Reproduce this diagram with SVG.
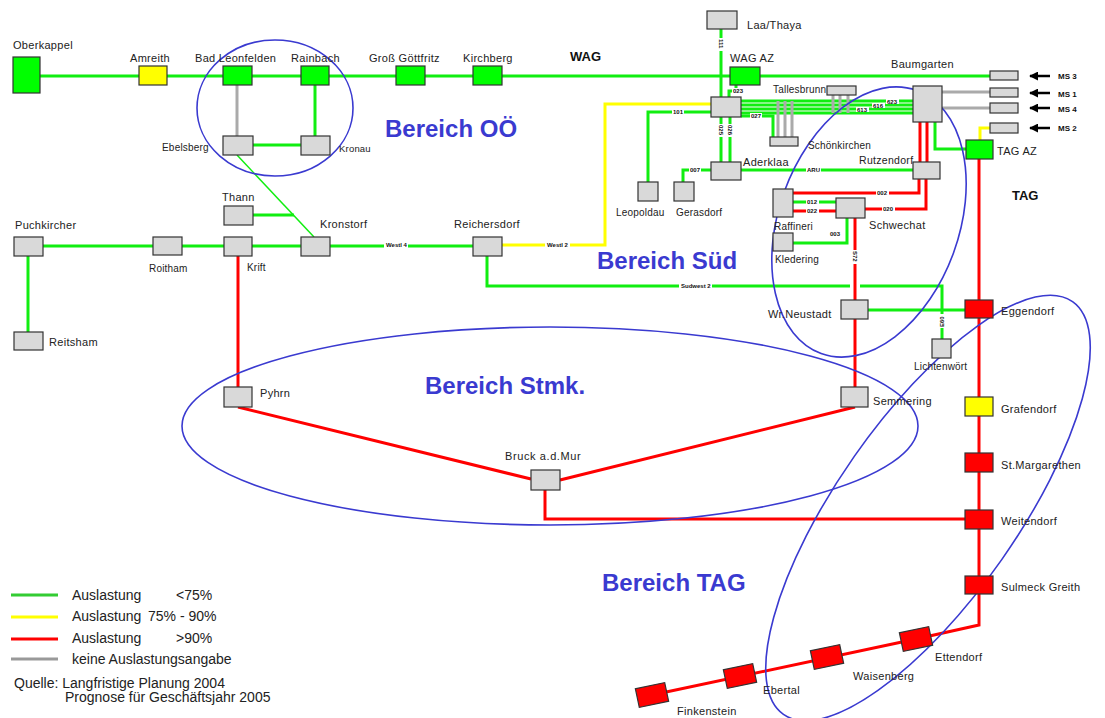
<svg xmlns="http://www.w3.org/2000/svg" width="1105" height="718" viewBox="0 0 1105 718">
<defs>
<style>
.st{fill:#d9d9d9;stroke:#333;stroke-width:1.2}
.g{fill:#00ff00}
.y{fill:#ffff00}
.r{fill:#ff0000}
.t{font-family:"Liberation Sans",Arial,sans-serif;font-size:11px;fill:#222;letter-spacing:0.3px}
.ts{font-size:10px;letter-spacing:0.2px}
.lg{fill:none;stroke:#11ee11;stroke-width:3}
.lgt{fill:none;stroke:#11ee11;stroke-width:1.5}
.lr{fill:none;stroke:#ff0000;stroke-width:3}
.ly{fill:none;stroke:#ffff00;stroke-width:3}
.lgr{fill:none;stroke:#aaaaaa;stroke-width:3}
.cl{font-family:"Liberation Sans",Arial,sans-serif;font-size:6px;font-weight:bold;fill:#111}
.cb{fill:#fff}
.bb{font-family:"Liberation Sans",Arial,sans-serif;font-weight:bold;font-size:24px;fill:#3a3ad0}
.reg{fill:none;stroke:#3a3ad0;stroke-width:1.6}
.hd{font-family:"Liberation Sans",Arial,sans-serif;font-weight:bold;font-size:13px;fill:#111}
.ms{font-family:"Liberation Sans",Arial,sans-serif;font-weight:bold;font-size:8px;fill:#111}
.leg{font-family:"Liberation Sans",Arial,sans-serif;font-size:14px;fill:#222}
.ar{stroke:#000;stroke-width:2.5;fill:none;marker-end:url(#ah)}
</style>
<marker id="ah" viewBox="0 0 10 10" refX="9" refY="5" markerWidth="3.6" markerHeight="3.6" orient="auto">
<path d="M0,0 L10,5 L0,10 z" fill="#000"/>
</marker>
</defs>
<rect width="1105" height="718" fill="#fff"/>

<g id="connectors">
<path class="lg" d="M40,76 H990"/>
<path class="lgr" d="M237,85 V136" stroke-width="2"/>
<path class="lg" d="M315,85 V136" stroke-width="2"/>
<path class="lg" d="M250,145 H302" stroke-width="2"/>
<path class="lgt" d="M237,155 L314,237"/>
<path class="lg" d="M253,215 H294"/>
<path class="lg" d="M43,246 H474"/>
<path class="lg" d="M28,256 V332" stroke-width="2"/>
<path class="lr" d="M238,256 V387" stroke-width="2"/>
<path class="ly" d="M502,245 H605 V104 H711"/>
<path class="lg" d="M487,256 V286 H850 M860,286 H942 V339" stroke-width="2.5"/>
<path class="lg" d="M721,29 V97" stroke-width="2.5"/>
<path class="lg" d="M736,85 V91 H729 V97" stroke-width="2"/>
<path class="lg" d="M711,112 H648 V182" stroke-width="2.5"/>
<path class="lg" d="M741,101 H913 M741,105 H913 M741,109 H913 M741,113 H913" stroke-width="2.5"/>
<path class="lg" d="M741,116 H773 V137" stroke-width="2.5"/>
<path class="lgr" d="M833,95 V113 M840,95 V113 M848,95 V113" stroke-width="1.5"/>
<path class="lgr" d="M778,101 V137 M785,101 V137 M792,101 V137" stroke-width="1.5"/>
<path class="lg" d="M721,117 V162 M730,117 V162" stroke-width="2.5"/>
<path class="lg" d="M711,170 H683 V182" stroke-width="2.5"/>
<path class="lg" d="M741,170 H913" stroke-width="2.5"/>
<path class="lgr" d="M942,92 H990 M942,108 H990"/>
<path class="lr" d="M920,122 V162 M927,122 V162" stroke-width="2.5"/>
<path class="lg" d="M935,122 V149 H966" stroke-width="2.5"/>
<path class="ly" d="M990,128 H980 V140" stroke-width="2.5"/>
<path class="ar" d="M1050,76 H1030"/>
<path class="ar" d="M1050,93 H1030"/>
<path class="ar" d="M1050,108 H1030"/>
<path class="ar" d="M1050,128 H1030"/>
<path class="lr" d="M793,193 H919 V179" stroke-width="2.5"/>
<path class="lg" d="M793,202 H836" stroke-width="2.5"/>
<path class="lr" d="M793,211 H836" stroke-width="2.5"/>
<path class="lr" d="M865,209 H926 V179" stroke-width="2.5"/>
<path class="lg" d="M847,218 V243 H793" stroke-width="2.5"/>
<path class="lr" d="M855,218 V300" stroke-width="2"/>
<path class="lr" d="M855,319 V387" stroke-width="2"/>
<path class="lg" d="M868,310 H965" stroke-width="2.5"/>
<path class="lr" d="M238,407 L531,479"/>
<path class="lr" d="M560,480 L855,407"/>
<path class="lr" d="M545,490 V519 H965"/>
<path class="lr" d="M979,159 V625 L916,639 L652,695" stroke-width="2.5"/>

<g>
<rect class="cb" x="384" y="242" width="24" height="6"/><text class="cl" x="386" y="247">Westl 4</text>
<rect class="cb" x="545" y="242" width="25" height="6"/><text class="cl" x="547" y="247">Westl 2</text>
<rect class="cb" x="679" y="283" width="33" height="6"/><text class="cl" x="681" y="288">Sudwest 2</text>
<rect class="cb" x="672" y="109" width="12" height="6"/><text class="cl" x="673" y="114">101</text>
<rect class="cb" x="750" y="113" width="12" height="6"/><text class="cl" x="751" y="118">027</text>
<rect class="cb" x="689" y="167" width="12" height="6"/><text class="cl" x="690" y="172">007</text>
<rect class="cb" x="806" y="167" width="15" height="6"/><text class="cl" x="807" y="172">ARU</text>
<rect class="cb" x="732" y="88" width="12" height="6"/><text class="cl" x="733" y="93">023</text>
<rect class="cb" x="876" y="190" width="13" height="6"/><text class="cl" x="877" y="195">002</text>
<rect class="cb" x="806" y="199" width="13" height="6"/><text class="cl" x="807" y="204">012</text>
<rect class="cb" x="806" y="208" width="13" height="6"/><text class="cl" x="807" y="213">022</text>
<rect class="cb" x="882" y="206" width="13" height="6"/><text class="cl" x="883" y="211">020</text>
<rect class="cb" x="829" y="231" width="13" height="6"/><text class="cl" x="830" y="236">003</text>
<rect class="cb" x="886" y="99" width="13" height="5"/><text class="cl" x="887" y="104">623</text>
<rect class="cb" x="872" y="103" width="13" height="5"/><text class="cl" x="873" y="108">616</text>
<rect class="cb" x="856" y="107" width="13" height="5"/><text class="cl" x="857" y="112">613</text>
<rect class="cb" x="718" y="38" width="6" height="13"/><text class="cl" transform="translate(719,39) rotate(90)">111</text>
<rect class="cb" x="718" y="124" width="6" height="13"/><text class="cl" transform="translate(719,125) rotate(90)">025</text>
<rect class="cb" x="727" y="124" width="6" height="13"/><text class="cl" transform="translate(728,125) rotate(90)">026</text>
<rect class="cb" x="852" y="250" width="6" height="14"/><text class="cl" transform="translate(853,251) rotate(90)">S72</text>
<rect class="cb" x="939" y="314" width="6" height="14"/><text class="cl" transform="translate(944,327) rotate(-90)">E60</text>
</g>
</g>

<g id="regions">
<ellipse class="reg" cx="275" cy="108" rx="78" ry="68"/>
<ellipse class="reg" cx="869" cy="222" rx="90" ry="140" transform="rotate(20 869 222)"/>
<ellipse class="reg" cx="550" cy="426" rx="368" ry="99"/>
<ellipse class="reg" cx="928" cy="508" rx="90" ry="252" transform="rotate(35 928 508)"/>
<text class="bb" x="385" y="137">Bereich OÖ</text>
<text class="bb" x="597" y="269">Bereich Süd</text>
<text class="bb" x="425" y="394">Bereich Stmk.</text>
<text class="bb" x="602" y="591">Bereich TAG</text>
<text class="hd" x="570" y="61">WAG</text>
<text class="hd" x="1012" y="200">TAG</text>
</g>

<g id="n-oberkappel"><rect class="st g" x="13" y="57" width="27" height="36"/><text class="t" x="13" y="49">Oberkappel</text></g>
<g id="n-amreith"><rect class="st y" x="139" y="66" width="28" height="19"/><text class="t" x="130" y="62">Amreith</text></g>
<g id="n-badleonfelden"><rect class="st g" x="223" y="66" width="29" height="19"/><text class="t" x="195" y="62">Bad Leonfelden</text></g>
<g id="n-rainbach"><rect class="st g" x="301" y="66" width="28" height="19"/><text class="t" x="291" y="62">Rainbach</text></g>
<g id="n-grossgoettfritz"><rect class="st g" x="396" y="66" width="29" height="19"/><text class="t" x="369" y="62">Groß Göttfritz</text></g>
<g id="n-kirchberg"><rect class="st g" x="473" y="66" width="29" height="19"/><text class="t" x="463" y="62">Kirchberg</text></g>
<g id="n-ebelsberg"><rect class="st" x="223" y="136" width="30" height="19"/><text class="t ts" x="162" y="151">Ebelsberg</text></g>
<g id="n-kronau"><rect class="st" x="301" y="136" width="29" height="19"/><text class="t ts" x="339" y="152" style="font-size:9.5px">Kronau</text></g>
<g id="n-thann"><rect class="st" x="224" y="206" width="29" height="19"/><text class="t" x="222" y="201">Thann</text></g>
<g id="n-puchkircher"><rect class="st" x="14" y="237" width="29" height="19"/><text class="t" x="15" y="229">Puchkircher</text></g>
<g id="n-roitham"><rect class="st" x="153" y="237" width="29" height="18"/><text class="t ts" x="149" y="272">Roitham</text></g>
<g id="n-krift"><rect class="st" x="224" y="237" width="28" height="19"/><text class="t ts" x="247" y="271">Krift</text></g>
<g id="n-kronstorf"><rect class="st" x="301" y="237" width="29" height="19"/><text class="t" x="320" y="228">Kronstorf</text></g>
<g id="n-reichersdorf"><rect class="st" x="473" y="237" width="29" height="19"/><text class="t" x="454" y="228">Reichersdorf</text></g>
<g id="n-reitsham"><rect class="st" x="14" y="332" width="29" height="18"/><text class="t" x="49" y="346">Reitsham</text></g>
<g id="n-laathaya"><rect class="st" x="707" y="11" width="30" height="18"/><text class="t" x="747" y="29">Laa/Thaya</text></g>
<g id="n-wagaz"><rect class="st g" x="730" y="67" width="30" height="18"/><text class="t" x="730" y="62">WAG AZ</text></g>
<g id="n-hub"><rect class="st" x="711" y="97" width="30" height="20"/></g>
<g id="n-tallesbrunn"><rect class="st" x="827" y="86" width="29" height="9"/><text class="t ts" x="773" y="93">Tallesbrunn</text></g>
<g id="n-schoenkirchen"><rect class="st" x="770" y="137" width="28" height="9"/><text class="t ts" x="808" y="149">Schönkirchen</text></g>
<g id="n-baumgarten"><rect class="st" x="913" y="86" width="29" height="36"/><text class="t" x="891" y="68">Baumgarten</text></g>
<g id="n-ms3"><rect class="st" x="990" y="71" width="28" height="9"/><text class="ms" x="1058" y="79">MS 3</text></g>
<g id="n-ms1"><rect class="st" x="990" y="88" width="28" height="9"/><text class="ms" x="1058" y="97">MS 1</text></g>
<g id="n-ms4"><rect class="st" x="990" y="103" width="28" height="10"/><text class="ms" x="1058" y="112">MS 4</text></g>
<g id="n-ms2"><rect class="st" x="990" y="123" width="28" height="10"/><text class="ms" x="1058" y="131">MS 2</text></g>
<g id="n-tagaz"><rect class="st g" x="966" y="140" width="27" height="19"/><text class="t" x="997" y="155">TAG AZ</text></g>
<g id="n-leopoldau"><rect class="st" x="638" y="182" width="20" height="19"/><text class="t ts" x="616" y="216">Leopoldau</text></g>
<g id="n-gerasdorf"><rect class="st" x="674" y="182" width="20" height="19"/><text class="t ts" x="676" y="216">Gerasdorf</text></g>
<g id="n-aderklaa"><rect class="st" x="711" y="162" width="30" height="18"/><text class="t" x="743" y="166">Aderklaa</text></g>
<g id="n-rutzendorf"><rect class="st" x="913" y="162" width="27" height="17"/><text class="t" x="859" y="164" style="font-size:10.5px">Rutzendorf</text></g>
<g id="n-raffinerie"><rect class="st" x="773" y="189" width="20" height="28"/><text class="t ts" x="774" y="230">Raffineri</text></g>
<g id="n-schwechat"><rect class="st" x="836" y="198" width="29" height="20"/><text class="t" x="869" y="229">Schwechat</text></g>
<g id="n-kledering"><rect class="st" x="773" y="233" width="20" height="18"/><text class="t ts" x="775" y="263">Kledering</text></g>
<g id="n-wrneustadt"><rect class="st" x="841" y="300" width="27" height="19"/><text class="t" x="768" y="318">Wr.Neustadt</text></g>
<g id="n-lichtenwoert"><rect class="st" x="932" y="339" width="19" height="19"/><text class="t ts" x="914" y="370">Lichtenwört</text></g>
<g id="n-pyhrn"><rect class="st" x="224" y="387" width="28" height="20"/><text class="t" x="260" y="397">Pyhrn</text></g>
<g id="n-semmering"><rect class="st" x="841" y="387" width="27" height="20"/><text class="t" x="873" y="405">Semmering</text></g>
<g id="n-bruck"><rect class="st" x="531" y="470" width="29" height="20"/><text class="t" x="505" y="460" style="letter-spacing:0.6px">Bruck a.d.Mur</text></g>
<g id="n-eggendorf"><rect class="st r" x="965" y="300" width="28" height="18"/><text class="t" x="1001" y="315">Eggendorf</text></g>
<g id="n-grafendorf"><rect class="st y" x="965" y="397" width="28" height="19"/><text class="t" x="1001" y="413">Grafendorf</text></g>
<g id="n-stmargarethen"><rect class="st r" x="965" y="453" width="28" height="19"/><text class="t" x="1001" y="469">St.Margarethen</text></g>
<g id="n-weitendorf"><rect class="st r" x="965" y="510" width="28" height="19"/><text class="t" x="1001" y="525">Weitendorf</text></g>
<g id="n-sulmeck"><rect class="st r" x="965" y="576" width="28" height="18"/><text class="t" x="1001" y="591">Sulmeck Greith</text></g>
<g id="n-ettendorf"><rect class="st r" x="901" y="629.5" width="30" height="19" transform="rotate(-12 916 639)"/><text class="t" x="935" y="661">Ettendorf</text></g>
<g id="n-waisenberg"><rect class="st r" x="812" y="647.5" width="30" height="19" transform="rotate(-12 827 657)"/><text class="t" x="853" y="680">Waisenberg</text></g>
<g id="n-ebertal"><rect class="st r" x="725" y="666.5" width="30" height="19" transform="rotate(-12 740 676)"/><text class="t" x="763" y="694">Ebertal</text></g>
<g id="n-finkenstein"><rect class="st r" x="637" y="685.5" width="30" height="19" transform="rotate(-12 652 695)"/><text class="t" x="677" y="715">Finkenstein</text></g>

<g id="legend">
<path d="M11,595 H58" stroke="#33cc33" stroke-width="3"/>
<path d="M11,617 H58" stroke="#ffff00" stroke-width="3"/>
<path d="M11,639 H58" stroke="#ff0000" stroke-width="3"/>
<path d="M11,659 H58" stroke="#999" stroke-width="3"/>
<text class="leg" x="72" y="600">Auslastung</text><text class="leg" x="176" y="600">&lt;75%</text>
<text class="leg" x="72" y="621">Auslastung</text><text class="leg" x="148" y="621">75% - 90%</text>
<text class="leg" x="72" y="643">Auslastung</text><text class="leg" x="176" y="643">&gt;90%</text>
<text class="leg" x="72" y="664">keine Auslastungsangabe</text>
<text class="leg" x="14" y="688">Quelle: Langfristige Planung 2004</text>
<text class="leg" x="65" y="702">Prognose für Geschäftsjahr 2005</text>
</g>
</svg>
